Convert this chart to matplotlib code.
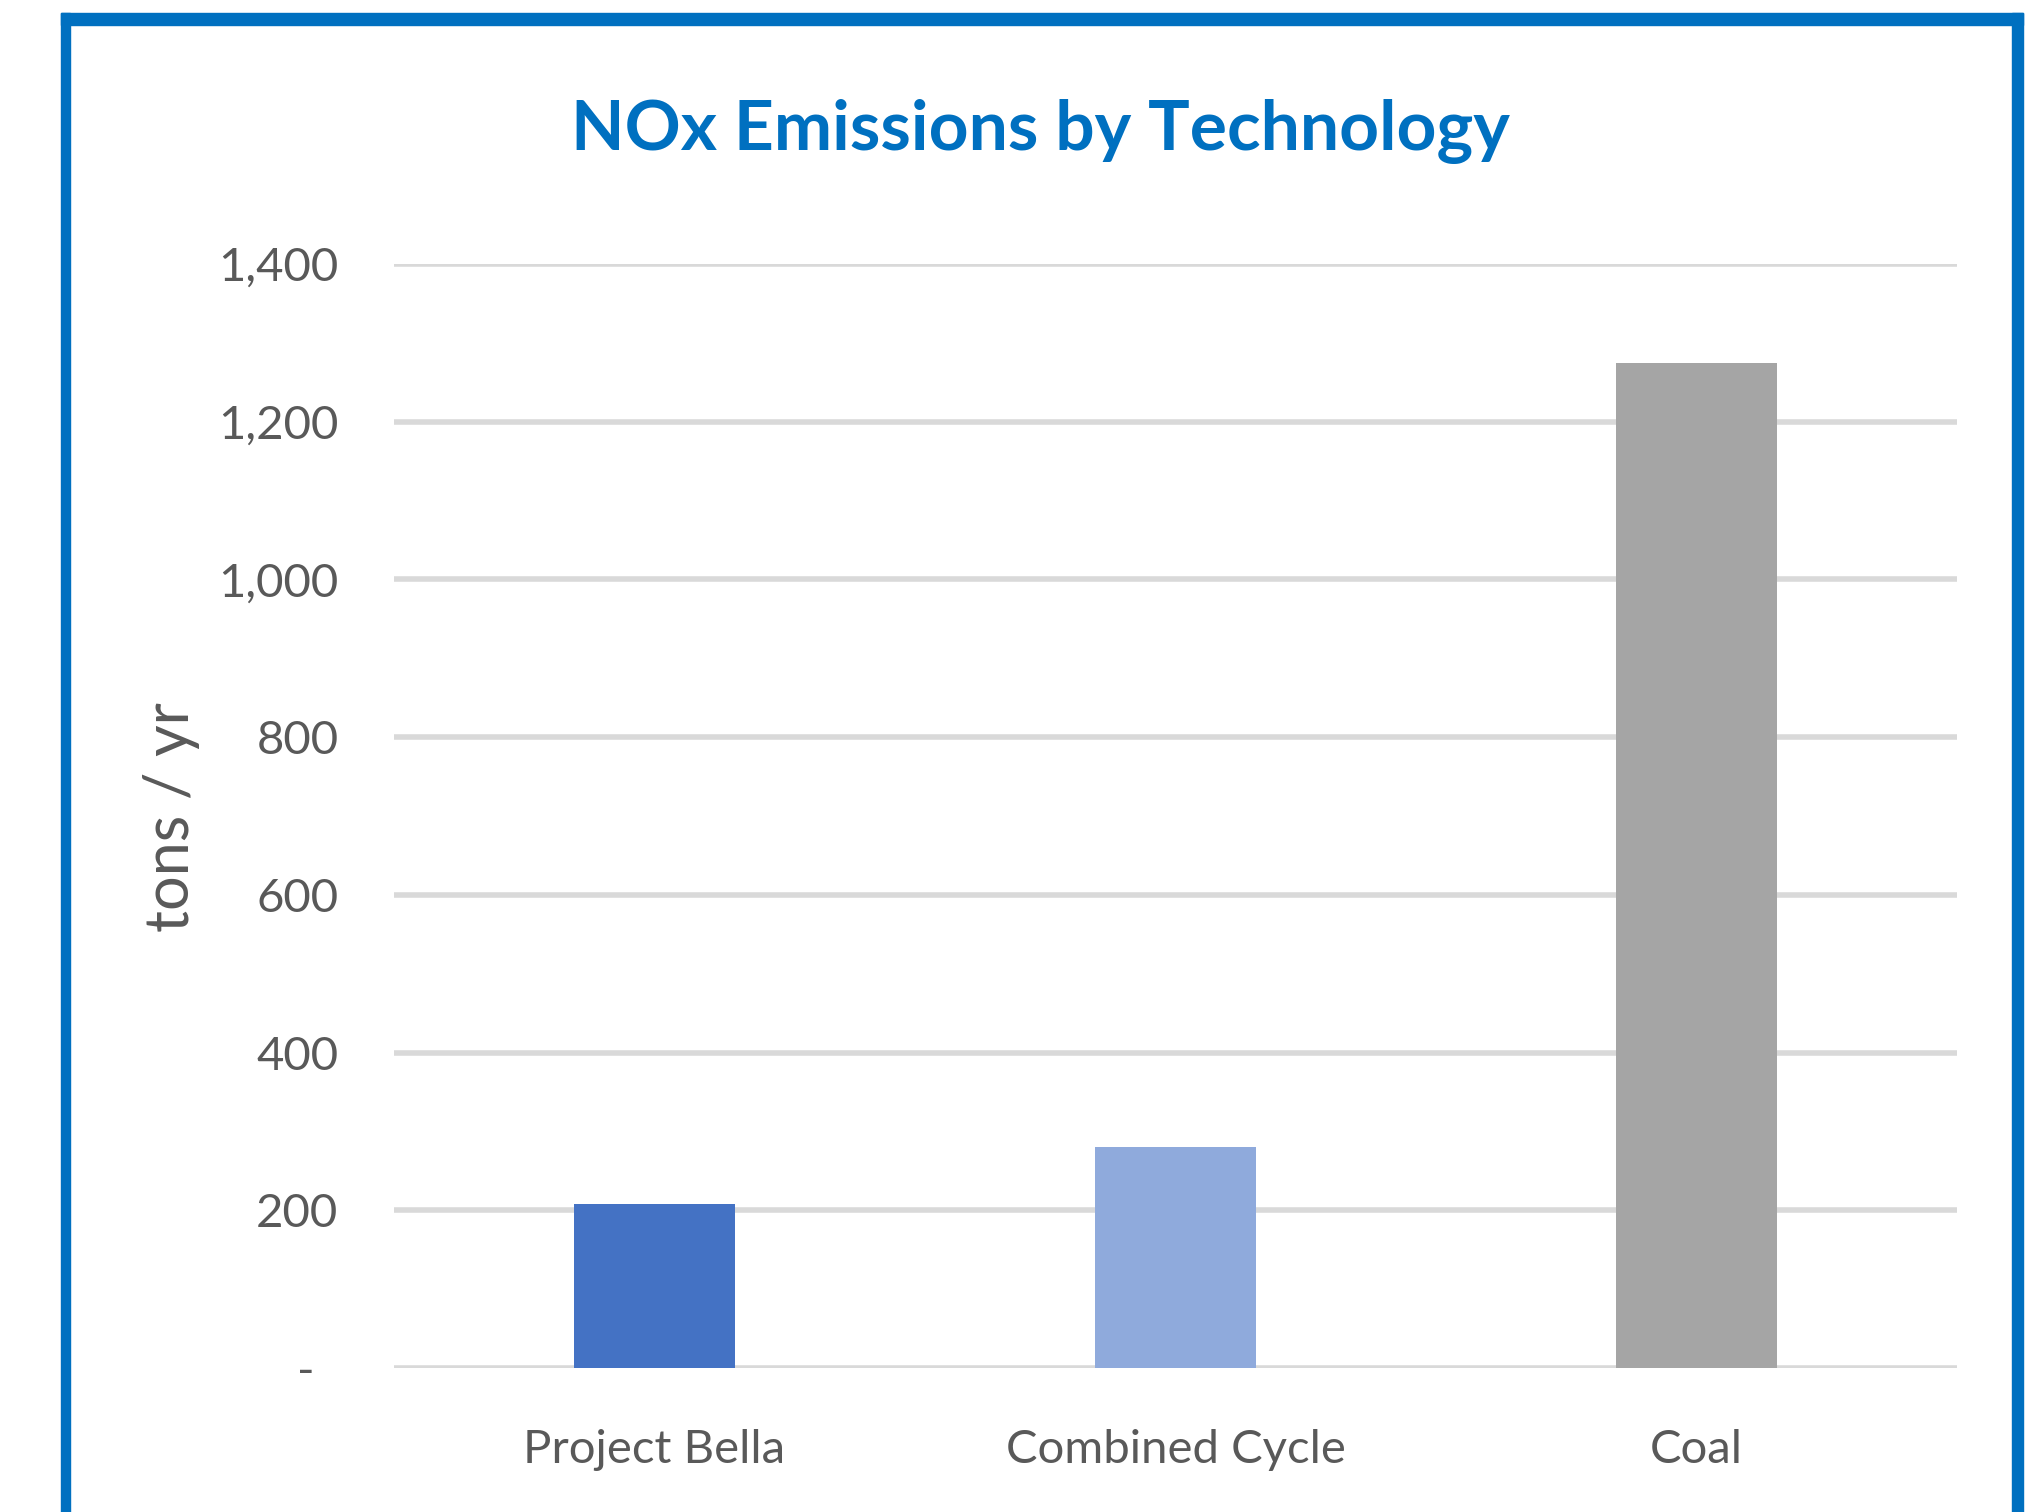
import matplotlib
matplotlib.use("Agg")
import matplotlib.pyplot as plt
from matplotlib.patches import Rectangle

categories = ["Project Bella", "Combined Cycle", "Coal"]
nox_tons = [208, 280, 1275]
bar_colors = ["#4472C4", "#8FAADC", "#A5A5A5"]
yticks = [0, 200, 400, 600, 800, 1000, 1200, 1400]
ytick_labels = ["-  ", "200", "400", "600", "800", "1,000", "1,200", "1,400"]

W, H = 2039, 1512
fig = plt.figure(figsize=(W / 100, H / 100), dpi=100)
fig.patch.set_facecolor("white")

# blue frame round the chart (open at the bottom)
blue = "#0070C0"
def px_rect(x0, y0, w, h):
    fig.patches.append(Rectangle((x0 / W, 1 - (y0 + h) / H), w / W, h / H,
                                 transform=fig.transFigure, color=blue, zorder=10))
px_rect(61, 13, 9, H)
px_rect(61, 13, 2023 - 61, 12)
px_rect(2012, 13, 11, H)

ax = fig.add_axes([394 / W, 1 - 1368 / H, (1957 - 394) / W, (1368 - 264) / H])
ax.bar(range(len(categories)), nox_tons, width=0.31, color=bar_colors, zorder=3)
ax.set_xlim(-0.5, 2.5)
ax.set_ylim(0, 1400)

ax.set_yticks(yticks)
ax.set_yticklabels(ytick_labels, family="Lato", fontsize=34, color="#595959")
ax.set_xticks(range(len(categories)))
ax.set_xticklabels(categories, family="Lato", fontsize=34, color="#595959")
ax.tick_params(axis="y", length=0, pad=40)
ax.tick_params(axis="x", length=0, pad=44)

ax.grid(axis="y", color="#D9D9D9", linewidth=4, zorder=0)
ax.set_axisbelow(True)
for s in ax.spines.values():
    s.set_visible(False)

fig.text(172 / W, 1 - 817 / H, "tons / yr", rotation=90, ha="center", va="center",
         family="Lato", fontsize=44, color="#595959")
fig.text(1040 / W, 1 - 132 / H, "NOx Emissions by Technology", ha="center", va="center",
         family="Lato", fontweight="bold", fontsize=50, color=blue)

fig.savefig("out.png", dpi=100)
